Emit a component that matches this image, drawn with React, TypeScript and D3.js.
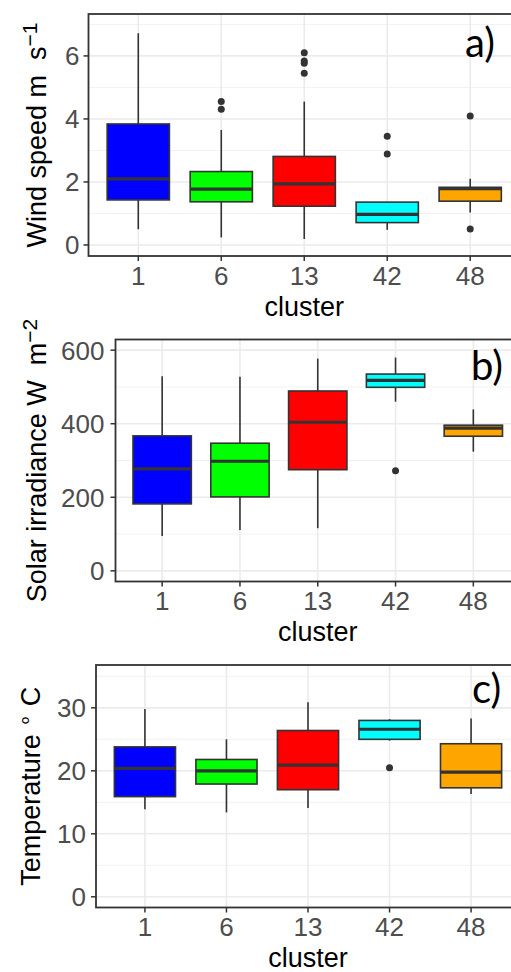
import React, { useRef, useEffect } from 'react';
import * as d3 from 'd3';

const clusters = ['1', '6', '13', '42', '48'];
const fills = ['#0000FF', '#00FF00', '#FF0000', '#00FFFF', '#FFA500'];

// a) wind speed, m s-1
const windLow = [0.50, 0.24, 0.19, 0.48, 1.03];
const windQ1 = [1.43, 1.37, 1.23, 0.71, 1.39];
const windMedian = [2.10, 1.77, 1.94, 0.97, 1.79];
const windQ3 = [3.84, 2.33, 2.81, 1.36, 1.83];
const windHigh = [6.72, 3.65, 4.55, 1.36, 2.10];
const windOutliers = [[], [4.55, 4.31], [6.10, 5.84, 5.77, 5.45], [3.45, 2.89], [4.09, 0.51]];

// b) solar irradiance, W m-2
const solarLow = [95, 111, 116, 460, 324];
const solarQ1 = [182, 201, 275, 499, 366];
const solarMedian = [277, 298, 404, 518, 388];
const solarQ3 = [367, 347, 489, 535, 396];
const solarHigh = [529, 528, 577, 580, 439];
const solarOutliers = [[], [], [], [272], []];

// c) temperature, deg C
const tempLow = [13.9, 13.4, 14.1, 24.8, 16.3];
const tempQ1 = [15.9, 17.9, 17.0, 25.0, 17.3];
const tempMedian = [20.4, 20.0, 20.9, 26.6, 19.8];
const tempQ3 = [23.8, 21.8, 26.4, 28.0, 24.3];
const tempHigh = [29.8, 25.0, 30.9, 28.2, 28.3];
const tempOutliers = [[], [], [], [20.5], []];

const windTicks = [0, 2, 4, 6];
const windMinor = [1, 3, 5, 7];
const solarTicks = [0, 200, 400, 600];
const solarMinor = [100, 300, 500];
const tempTicks = [0, 10, 20, 30];
const tempMinor = [5, 15, 25, 35];

const toStats = (lo, q1, med, q3, hi, out) =>
    clusters.map((c, i) => ({ cluster: c, lo: lo[i], q1: q1[i], med: med[i], q3: q3[i], hi: hi[i], out: out[i], fill: fills[i] }));

// title parts: [text, superscript?]
const panels = [
    {
        stats: toStats(windLow, windQ1, windMedian, windQ3, windHigh, windOutliers),
        ticks: windTicks, minor: windMinor, domain: [-0.35, 7.33],
        left: 88.5, top: 14, bottom: 256, labelGap: 9,
        title: [['Wind speed m\u00A0 s', false], ['\u22121', true]], titleX: 46,
        tag: 'a)', tagX: 465, tagY: 57
    },
    {
        stats: toStats(solarLow, solarQ1, solarMedian, solarQ3, solarHigh, solarOutliers),
        ticks: solarTicks, minor: solarMinor, domain: [-29, 629],
        left: 115.5, top: 339.5, bottom: 581.5, labelGap: 11,
        title: [['Solar irradiance W\u00A0 m', false], ['\u22122', true]], titleX: 46,
        tag: 'b)', tagX: 471, tagY: 380
    },
    {
        stats: toStats(tempLow, tempQ1, tempMedian, tempQ3, tempHigh, tempOutliers),
        ticks: tempTicks, minor: tempMinor, domain: [-1.7, 36.8],
        left: 96, top: 665, bottom: 907.5, labelGap: 10,
        title: [['Temperature ', false], ['\u2218', true], [' C', false]], titleX: 40,
        tag: 'c)', tagX: 472, tagY: 703
    }
];

const W = 511;
const H = 972;
const RIGHT = 520;
const FONT = '"Liberation Sans", Arial, sans-serif';

const drawPanel = (svg, p) => {
    const g = svg.append('g');
    const x = d3.scalePoint().domain(clusters).range([p.left, RIGHT]).padding(0.6);
    const y = d3.scaleLinear().domain(p.domain).range([p.bottom, p.top]);
    const boxW = x.step() * 0.75;

    // grid
    g.selectAll('.minor').data(p.minor).enter().append('line')
        .attr('x1', p.left).attr('x2', RIGHT)
        .attr('y1', d => y(d)).attr('y2', d => y(d))
        .attr('stroke', '#F2F2F2').attr('stroke-width', 1);
    g.selectAll('.major').data(p.ticks).enter().append('line')
        .attr('x1', p.left).attr('x2', RIGHT)
        .attr('y1', d => y(d)).attr('y2', d => y(d))
        .attr('stroke', '#EBEBEB').attr('stroke-width', 1.6);
    g.selectAll('.vgrid').data(clusters).enter().append('line')
        .attr('x1', d => x(d)).attr('x2', d => x(d))
        .attr('y1', p.top).attr('y2', p.bottom)
        .attr('stroke', '#EBEBEB').attr('stroke-width', 1.6);

    // boxes
    p.stats.forEach(s => {
        const cx = x(s.cluster);
        const bg = g.append('g');
        bg.append('line').attr('x1', cx).attr('x2', cx).attr('y1', y(s.q3)).attr('y2', y(s.hi))
            .attr('stroke', '#333333').attr('stroke-width', 1.6);
        bg.append('line').attr('x1', cx).attr('x2', cx).attr('y1', y(s.q1)).attr('y2', y(s.lo))
            .attr('stroke', '#333333').attr('stroke-width', 1.6);
        bg.append('rect')
            .attr('x', cx - boxW / 2).attr('width', boxW)
            .attr('y', y(s.q3)).attr('height', y(s.q1) - y(s.q3))
            .attr('fill', s.fill).attr('stroke', '#333333').attr('stroke-width', 1.6);
        bg.append('line').attr('x1', cx - boxW / 2).attr('x2', cx + boxW / 2)
            .attr('y1', y(s.med)).attr('y2', y(s.med))
            .attr('stroke', '#333333').attr('stroke-width', 3.2);
        bg.selectAll('circle').data(s.out).enter().append('circle')
            .attr('cx', cx).attr('cy', d => y(d)).attr('r', 3.5)
            .attr('fill', '#333333');
    });

    // border
    g.append('rect')
        .attr('x', p.left).attr('y', p.top)
        .attr('width', RIGHT - p.left).attr('height', p.bottom - p.top)
        .attr('fill', 'none').attr('stroke', '#333333').attr('stroke-width', 1.8);

    // y axis
    g.selectAll('.ytick').data(p.ticks).enter().append('line')
        .attr('x1', p.left - 5).attr('x2', p.left)
        .attr('y1', d => y(d)).attr('y2', d => y(d))
        .attr('stroke', '#333333').attr('stroke-width', 1.5);
    g.selectAll('.ylab').data(p.ticks).enter().append('text')
        .attr('x', p.left - p.labelGap).attr('y', d => y(d)).attr('dy', '0.36em')
        .attr('text-anchor', 'end').attr('fill', '#4D4D4D')
        .attr('font-family', FONT).attr('font-size', '26px')
        .text(d => d);

    // x axis
    g.selectAll('.xtick').data(clusters).enter().append('line')
        .attr('x1', d => x(d)).attr('x2', d => x(d))
        .attr('y1', p.bottom).attr('y2', p.bottom + 5)
        .attr('stroke', '#333333').attr('stroke-width', 1.5);
    g.selectAll('.xlab').data(clusters).enter().append('text')
        .attr('x', d => x(d)).attr('y', p.bottom + 28.5)
        .attr('text-anchor', 'middle').attr('fill', '#4D4D4D')
        .attr('font-family', FONT).attr('font-size', '26px')
        .text(d => d);
    g.append('text')
        .attr('x', (p.left + RIGHT) / 2).attr('y', p.bottom + 59.5)
        .attr('text-anchor', 'middle').attr('fill', '#000')
        .attr('font-family', FONT).attr('font-size', '27px')
        .text('cluster');

    // y title
    const cy = (p.top + p.bottom) / 2;
    const t = g.append('text')
        .attr('transform', `translate(${p.titleX},${cy}) rotate(-90)`)
        .attr('text-anchor', 'middle').attr('fill', '#000')
        .attr('font-family', FONT).attr('font-size', '27px');
    let raised = false;
    p.title.forEach(([txt, sup]) => {
        const ts = t.append('tspan').text(txt);
        if (sup && !raised) { ts.attr('dy', '-0.42em').attr('font-size', '21px'); raised = true; }
        else if (!sup && raised) { ts.attr('dy', '0.33em'); raised = false; }
    });

    // panel tag
    g.append('text')
        .attr('x', p.tagX).attr('y', p.tagY)
        .attr('fill', '#000').attr('font-family', 'Lato, "Open Sans", sans-serif')
        .attr('font-size', '40px')
        .text(p.tag);
};

const App = () => {
    const svgRef = useRef(null);

    useEffect(() => {
        if (!svgRef.current) return;
        const svg = d3.select(svgRef.current);
        svg.selectAll('*').remove();
        svg.append('rect').attr('width', W).attr('height', H).attr('fill', '#fff');
        panels.forEach(p => drawPanel(svg, p));
    }, []);

    return (
        <div style={{ position: 'absolute', left: 0, top: 0 }}>
            <svg ref={svgRef} width={W} height={H} style={{ display: 'block' }} />
        </div>
    );
};

export default App;
